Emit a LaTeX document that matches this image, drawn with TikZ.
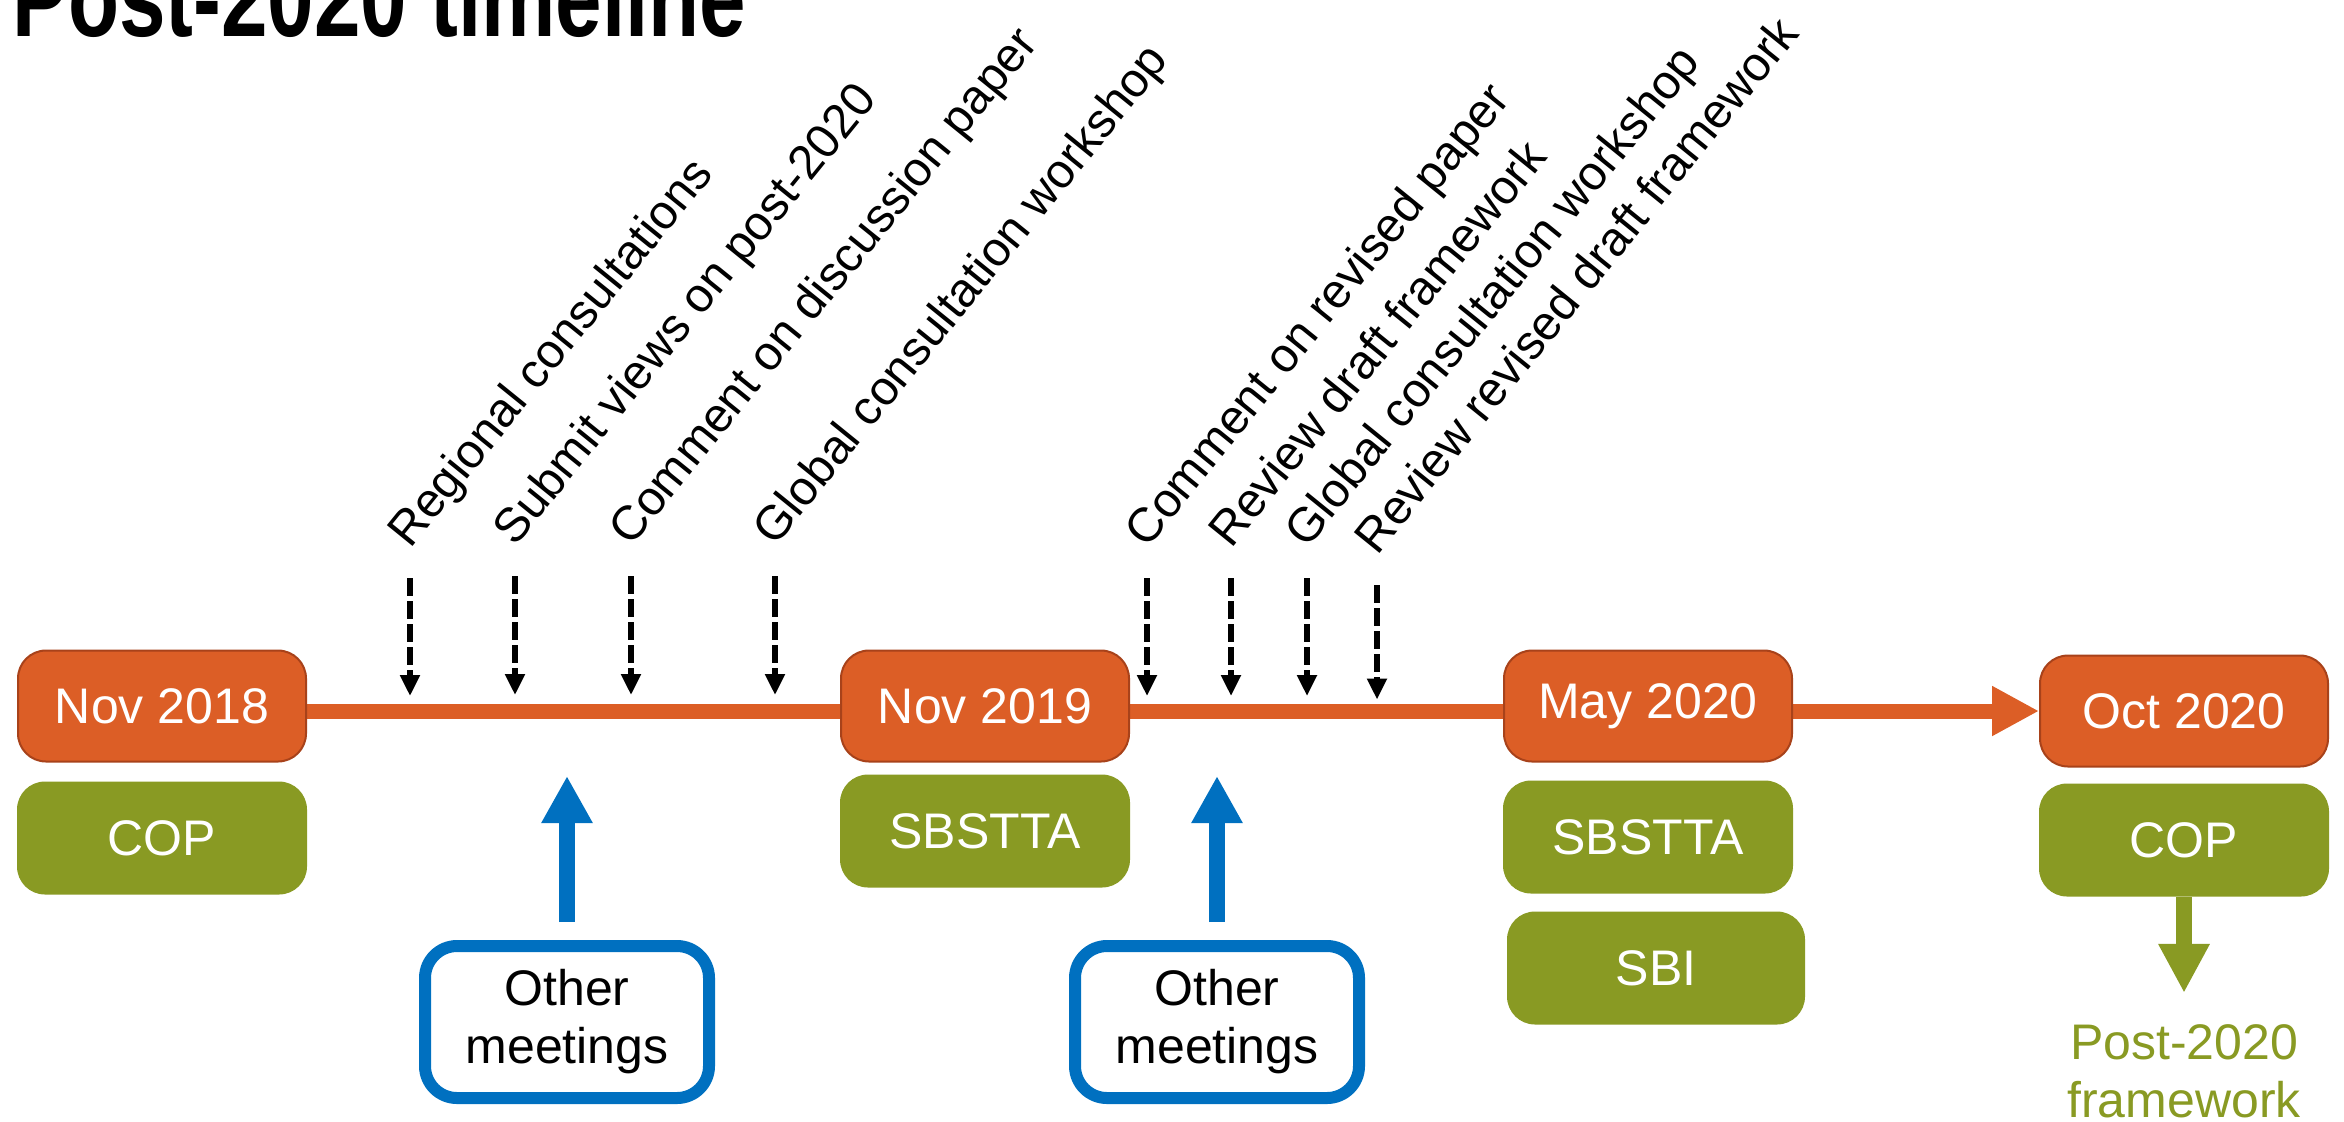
\documentclass[tikz,border=0pt]{standalone}
\usepackage{fontspec}
\setmainfont{Liberation Sans}
\newfontfamily\titlefont[FakeStretch=0.76]{Liberation Sans}
\usetikzlibrary{arrows.meta}
\usetikzlibrary{backgrounds}

\definecolor{datefill}{RGB}{220,94,38}
\definecolor{dateline}{RGB}{168,66,26}
\definecolor{cbdgreen}{RGB}{137,154,35}
\definecolor{meetblue}{RGB}{0,112,192}

\tikzset{
 boxfont/.style={font=\fontsize{25pt}{29pt}\selectfont},
 datebox/.style={boxfont, draw=dateline, line width=1pt, fill=datefill, text=white, rounded corners=14pt, minimum width=144pt, minimum height=55.5pt, inner sep=0pt},
 bodybox/.style={boxfont, fill=cbdgreen, text=white, rounded corners=14pt, minimum width=145pt, minimum height=56.5pt, inner sep=0pt},
 meetbox/.style={boxfont, draw=meetblue, line width=6pt, rounded corners=16pt, minimum width=142pt, minimum height=76pt, align=center, inner sep=0pt},
 event/.style={font=\fontsize{24pt}{28pt}\selectfont, rotate=51, anchor=base west, inner sep=0pt},
 eventarrow/.style={line width=3.25pt, dash pattern=on 9pt off 2.5pt, -{Triangle[width=9.5pt,length=10.5pt]}},
 timeline/.style={datefill, line width=7.5pt, -{Triangle[width=23.5pt,length=23.5pt]}},
 meetarrow/.style={meetblue, line width=8pt, -{Triangle[width=24pt,length=23.5pt]}, shorten <=9pt},
 bodyarrow/.style={cbdgreen, line width=8pt, -{Triangle[width=24pt,length=24.5pt]}, shorten >=15.5pt}
}

\begin{document}
\begin{tikzpicture}[x=0.5pt, y=-0.5pt]
\useasboundingbox (0,0) rectangle (2344,1121);

\node[anchor=base west, inner sep=0pt, font=\titlefont\bfseries\fontsize{55pt}{60pt}\selectfont] (title) at (12,36) {Post-2020 timeline};

% meetings on the time line
\node[datebox] (n18) at (162,706) {Nov 2018};
\node[datebox] (n19) at (985,706) {Nov 2019};
\node[datebox] (m20) at (1648,706) {May 2020};
\node[datebox] (o20) at (2184,711) {Oct 2020};
\begin{scope}[on background layer]
 \draw[timeline] (n18.east |- o20.west) -- (o20.west);
\end{scope}

\node[bodybox] (cop1) at (162,838) {COP};
\node[bodybox] (sb1) at (985,831) {SBSTTA};
\node[bodybox] (sb2) at (1648,837) {SBSTTA};
\node[bodybox, minimum width=149pt] (sbi) at (1656,968) {SBI};
\node[bodybox] (cop2) at (2184,840) {COP};

% intersessional steps
\foreach \x/\dy/\txt [count=\i] in {410/0/Regional consultations, 515/-2/Submit views on post-2020,
  631/-2/Comment on discussion paper, 775/-2/Global consultation workshop,
  1147/0/Comment on revised paper, 1231/0/Review draft framework,
  1307/0/Global consultation workshop, 1377/7/Review revised draft framework} {
 \node[event] (ev\i) at (\x,550+\dy) {\txt};
 \coordinate (evtop\i) at (\x,578+\dy);
 \coordinate (evtip\i) at (\x,696+\dy/2);
 \draw[eventarrow] (evtop\i) -- (evtip\i);
}

% other meetings
\node[meetbox] (om1) at (567,1022) {Other\\meetings};
\node[meetbox] (om2) at (1217,1022) {Other\\meetings};
\coordinate (up1) at (567,776);
\coordinate (up2) at (1217,776);
\draw[meetarrow] (om1.north) -- (up1);
\draw[meetarrow] (om2.north) -- (up2);

\node[boxfont, text=cbdgreen, align=center, inner sep=0pt] (pf) at (2184,1071) {Post-2020\\framework};
\draw[bodyarrow] (cop2.south) -- (pf.north);
\end{tikzpicture}
\end{document}
